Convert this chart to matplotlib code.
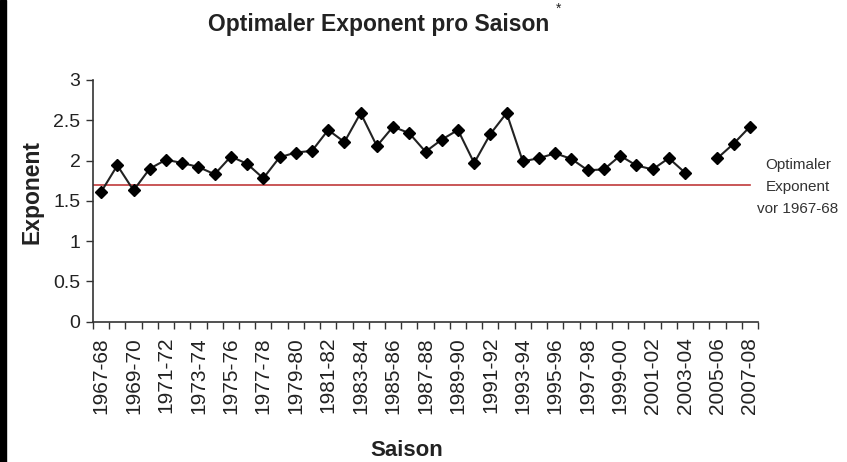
import matplotlib
matplotlib.use("Agg")
import matplotlib.pyplot as plt
import numpy as np
from matplotlib.patches import Rectangle

seasons = [f"{y}-{str(y+1)[-2:]}" for y in range(1967, 2008)]
exponent = [1.61, 1.94, 1.63, 1.90, 2.01, 1.97, 1.92, 1.83, 2.05, 1.96,
            1.78, 2.04, 2.10, 2.12, 2.38, 2.23, 2.59, 2.18, 2.42, 2.34,
            2.11, 2.26, 2.38, 1.97, 2.33, 2.59, 1.99, 2.03, 2.09, 2.02,
            1.88, 1.89, 2.06, 1.94, 1.89, 2.03, 1.85, np.nan, 2.03, 2.21,
            2.42]
reference_exponent = 1.7
y_ticks = [0, 0.5, 1, 1.5, 2, 2.5, 3]
y_tick_labels = ["0", "0.5", "1", "1.5", "2", "2.5", "3"]

plt.rcParams['font.family'] = ['Liberation Sans', 'DejaVu Sans']

fig = plt.figure(figsize=(8.47, 4.62), dpi=100)
ax = fig.add_axes([93/847, 1-321.7/462, (758-93)/847, (321.7-80)/462])

x = np.arange(len(seasons))
ax.plot(x, exponent, color='#222222', lw=1.5, marker='D', markersize=6.5,
        markerfacecolor='black', markeredgecolor='black', zorder=3)
ax.plot([-0.5, len(seasons)-1], [reference_exponent]*2, color='#c0393b', lw=1.2, zorder=2)

ax.set_xlim(-0.5, len(seasons)-0.5)
ax.set_ylim(0, 3)
ax.set_yticks(y_ticks)
ax.set_yticklabels(y_tick_labels, fontsize=14, color='#222222')
ax.set_xticks(np.arange(-0.5, len(seasons)), minor=False)
ax.set_xticklabels([])
ax.set_xticks(x[::2], minor=True)
ax.set_xticklabels(seasons[::2], minor=True, rotation=90, fontsize=15, color='#222222')
ax.tick_params(axis='x', which='minor', length=0, pad=11)
ax.tick_params(axis='x', which='major', length=5, width=1, color='#333333')
ax.tick_params(axis='y', length=5, width=1, color='#333333', pad=4)

for s in ['top', 'right']:
    ax.spines[s].set_visible(False)
for s in ['left', 'bottom']:
    ax.spines[s].set_color('#333333')
    ax.spines[s].set_linewidth(1.2)

fig.text(32/847, 1-192/462, "Exponent", rotation=90, ha='center', va='center',
         fontsize=16.5, fontweight='bold', color='#222222')
fig.text(407/847, 1-451/462, "Saison", ha='center', va='center',
         fontsize=16, fontweight='bold', color='#222222')

fig.text(379/847, 1-24/462, "Optimaler Exponent pro Saison", ha='center', va='center',
         fontsize=16.5, fontweight='bold', color='#222222')
fig.text(559/847, 1-9/462, "*", ha='center', va='center', fontsize=10, color='#222222')

fig.text(798/847, 1-187/462, "Optimaler\nExponent\nvor 1967-68", ha='center', va='center',
         fontsize=11, color='#333333', linespacing=1.7)

fig.patches.append(Rectangle((0, 0), 6/847, 1, transform=fig.transFigure,
                             color='black', zorder=10))

fig.savefig("out.png", dpi=100)
